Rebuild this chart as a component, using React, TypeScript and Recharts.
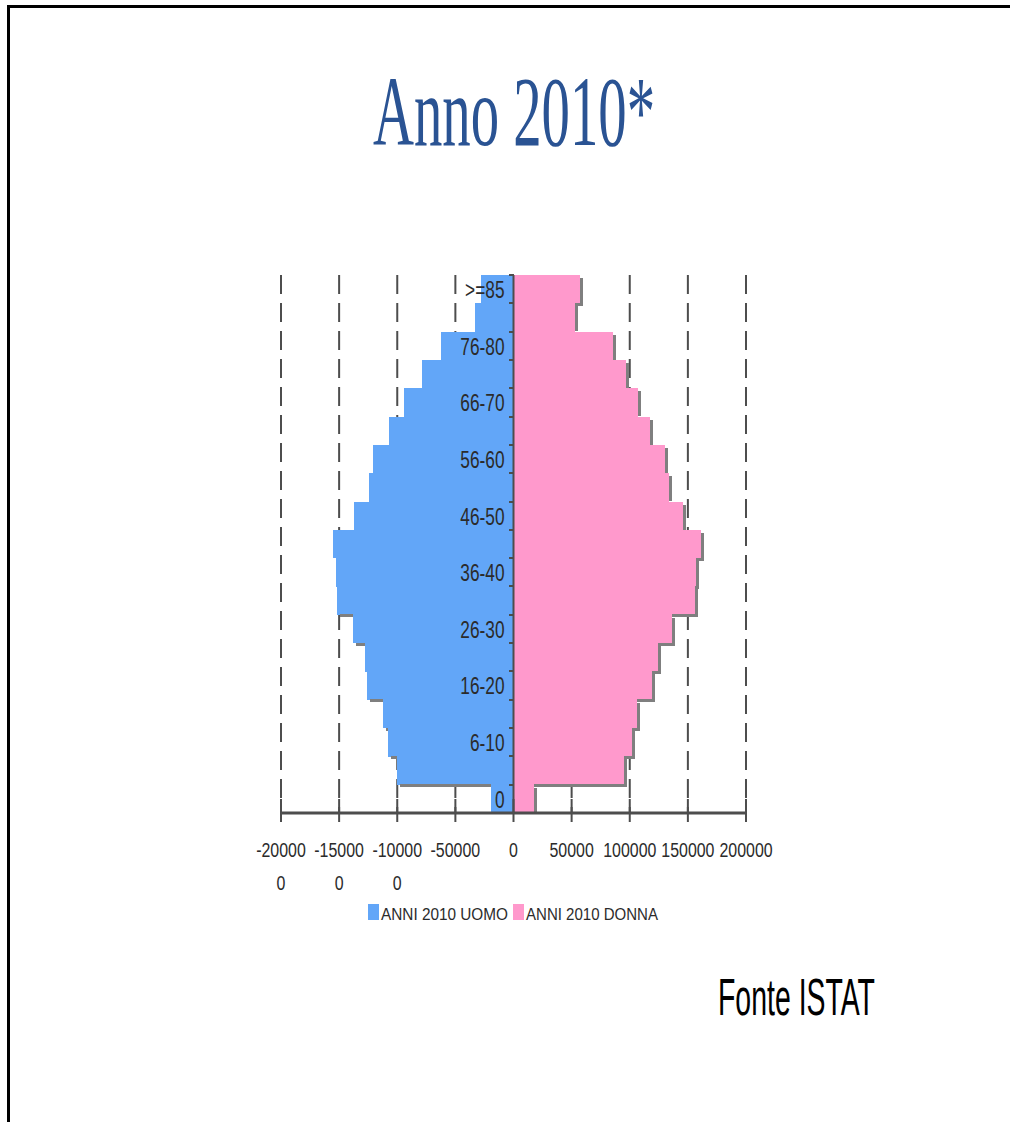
import {
    BarChart,
    Bar,
    XAxis,
    YAxis,
    CartesianGrid,
    ReferenceLine,
    LabelList,
    Legend
} from "recharts";

// age classes, top of the pyramid first
const AGE_GROUPS = [
    ">=85", "81-84", "76-80", "71-75", "66-70", "61-65", "56-60", "51-55",
    "46-50", "41-45", "36-40", "31-35", "26-30", "21-25", "16-20", "11-15",
    "6-10", "1-5", "0"
];

const UOMO = [
    28000, 33000, 62000, 79000, 94000, 107000, 121000, 124000,
    137000, 155000, 153000, 152000, 138000, 128000, 126000, 112000,
    108000, 100000, 19000
];

const DONNA = [
    57000, 52500, 86000, 97000, 107000, 117000, 130000, 134000,
    146000, 161500, 157000, 156000, 136500, 124000, 119000, 106000,
    102000, 95000, 18000
];

const X_TICKS = [-200000, -150000, -100000, -50000, 0, 50000, 100000, 150000, 200000];

const NAME_UOMO = "ANNI 2010 UOMO";
const NAME_DONNA = "ANNI 2010 DONNA";

const BLUE = "#62A6F8";
const PINK = "#FF99CC";
const SHADOW = "#7F7F7F";
const AXIS = "#4D4D4D";
const TEXT = "#2B2B2B";
const FONT = "'Liberation Sans', Arial, sans-serif";

const data = AGE_GROUPS.map((age, i) => ({
    age,
    uomo: -UOMO[i],
    donna: DONNA[i]
}));

function box(props: any) {
    const { x, y, width, height } = props;
    return {
        left: Math.min(x, x + width),
        top: Math.min(y, y + height),
        w: Math.abs(width),
        h: Math.abs(height)
    };
}

// bars with the grey drop shadow (3px right/down) of the old excel chart.
// only the visible part of the shadow is drawn so the paint order of rows does not matter
function makeShape(values: number[], side: "left" | "right") {
    return function PyramidBar(props: any) {
        const i = props.index;
        const { left, top, w, h } = box(props);
        const k = values[i] ? w / values[i] : 0;
        const last = i === values.length - 1;
        const nextW = last ? w : values[i + 1] * k;
        const zero = side === "left" ? left + w : left;
        return (
            <g shapeRendering="crispEdges">
                <rect x={left} y={top} width={w} height={h + 0.5} fill={props.fill} />
                {side === "right" && (
                    <rect x={zero + w} y={top + 3} width={3} height={Math.max(h - 3, 0)} fill={SHADOW} />
                )}
                {side === "right" && !last && nextW < w && (
                    <rect
                        x={zero + Math.max(3, nextW)}
                        y={top + h}
                        width={w + 3 - Math.max(3, nextW)}
                        height={3}
                        fill={SHADOW}
                    />
                )}
                {side === "left" && !last && nextW < w - 3 && (
                    <rect x={left + 3} y={top + h} width={w - 3 - nextW} height={3} fill={SHADOW} />
                )}
                {side === "left" && (
                    <line x1={zero - 5} x2={zero} y1={top} y2={top} stroke={AXIS} strokeWidth={2} />
                )}
                {side === "left" && last && (
                    <line x1={zero - 5} x2={zero} y1={top + h} y2={top + h} stroke={AXIS} strokeWidth={2} />
                )}
            </g>
        );
    };
}

const UomoBar = makeShape(UOMO, "left");
const DonnaBar = makeShape(DONNA, "right");

function AgeLabel(props: any) {
    const idx = AGE_GROUPS.indexOf(props.value);
    if (idx % 2 !== 0) return null;
    const vb = props.viewBox ?? props;
    const right = Math.max(vb.x, vb.x + vb.width);
    const cy = Math.min(vb.y, vb.y + vb.height) + Math.abs(vb.height) / 2;
    return (
        <text
            transform={`translate(${right - 9},${cy + 9}) scale(0.72,1)`}
            textAnchor="end"
            fontSize={24}
            fontFamily={FONT}
            fill={TEXT}
        >
            {props.value}
        </text>
    );
}

function XTick(props: any) {
    const { x, y, payload } = props;
    const s = String(payload.value);
    const lines = s.length > 6 ? [s.slice(0, 6), s.slice(6)] : [s];
    return (
        <g>
            <line x1={x} x2={x} y1={y - 14} y2={y + 9} stroke={AXIS} strokeWidth={2} />
            {lines.map((t, i) => (
                <text
                    key={i}
                    transform={`translate(${x},${y + 44 + i * 33}) scale(0.76,1)`}
                    textAnchor="middle"
                    fontSize={21}
                    fontFamily={FONT}
                    fill={TEXT}
                >
                    {t}
                </text>
            ))}
        </g>
    );
}

const LEGEND_POS: Record<string, { sq: number; tx: number; len: number }> = {
    [NAME_UOMO]: { sq: 368, tx: 381, len: 127 },
    [NAME_DONNA]: { sq: 513, tx: 526, len: 132 }
};

function renderLegend(props: any) {
    const items = props.payload || [];
    return (
        <svg width={1010} height={40}>
            {items.map((it: any, i: number) => {
                const p = LEGEND_POS[it.value];
                if (!p) return null;
                return (
                    <g key={i}>
                        <rect x={p.sq} y={9} width={11} height={16} fill={it.color} />
                        <text
                            x={p.tx}
                            y={25}
                            fontSize={17}
                            fontFamily={FONT}
                            fill={TEXT}
                            textLength={p.len}
                            lengthAdjust="spacingAndGlyphs"
                        >
                            {it.value}
                        </text>
                    </g>
                );
            })}
        </svg>
    );
}

export default function App() {
    return (
        <div
            style={{
                position: "absolute",
                left: 0,
                top: 0,
                width: 1010,
                height: 1122,
                overflow: "hidden",
                background: "#fff"
            }}
        >
            <div
                style={{
                    position: "absolute",
                    left: 7,
                    top: 5,
                    width: 1100,
                    height: 1200,
                    borderLeft: "3px solid #000",
                    borderTop: "3px solid #000"
                }}
            />

            <svg style={{ position: "absolute", left: 0, top: 0 }} width={1010} height={200}>
                <text
                    x={373}
                    y={145}
                    fontSize={100}
                    fontFamily="'Liberation Serif', 'DejaVu Serif', serif"
                    fill="#2A5393"
                    textLength={282}
                    lengthAdjust="spacingAndGlyphs"
                >
                    Anno 2010*
                </text>
            </svg>

            <div style={{ position: "absolute", left: 0, top: 0 }}>
                <BarChart
                    width={1010}
                    height={1000}
                    data={data}
                    layout="vertical"
                    stackOffset="sign"
                    barCategoryGap={0}
                    barGap={0}
                    margin={{ top: 275, right: 264, bottom: 117, left: 281 }}
                >
                    <CartesianGrid
                        horizontal={false}
                        stroke={AXIS}
                        strokeWidth={2}
                        strokeDasharray="19 9"
                    />
                    <XAxis
                        type="number"
                        domain={[-200000, 200000]}
                        ticks={X_TICKS}
                        interval={0}
                        height={70}
                        allowDataOverflow
                        axisLine={{ stroke: AXIS, strokeWidth: 3 }}
                        tickLine={false}
                        tickSize={0}
                        tickMargin={0}
                        tick={<XTick />}
                    />
                    <YAxis type="category" dataKey="age" hide />
                    <Bar
                        dataKey="uomo"
                        name={NAME_UOMO}
                        stackId="p"
                        fill={BLUE}
                        shape={UomoBar}
                        isAnimationActive={false}
                    >
                        <LabelList dataKey="age" content={AgeLabel} />
                    </Bar>
                    <Bar
                        dataKey="donna"
                        name={NAME_DONNA}
                        stackId="p"
                        fill={PINK}
                        shape={DonnaBar}
                        isAnimationActive={false}
                    />
                    <ReferenceLine x={0} stroke={AXIS} strokeWidth={2} />
                    <Legend
                        layout="horizontal"
                        verticalAlign="middle"
                        align="center"
                        content={renderLegend}
                        wrapperStyle={{ top: 895, left: 0, width: 1010, height: 40 }}
                    />
                </BarChart>
            </div>

            <svg style={{ position: "absolute", left: 0, top: 940 }} width={1010} height={100}>
                <text
                    x={718}
                    y={75}
                    fontSize={52}
                    fontFamily={FONT}
                    fill="#000"
                    textLength={157}
                    lengthAdjust="spacingAndGlyphs"
                >
                    Fonte ISTAT
                </text>
            </svg>
        </div>
    );
}
